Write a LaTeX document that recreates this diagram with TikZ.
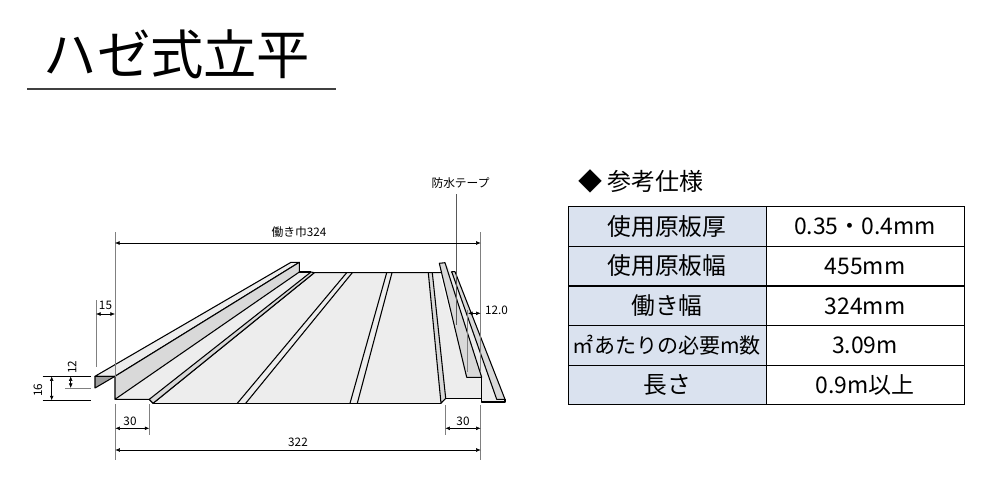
\documentclass[tikz,border=0pt]{standalone}
\usepackage{fontspec}
\setmainfont{Noto Sans CJK JP}
\usetikzlibrary{arrows.meta}

\definecolor{panelgray}{HTML}{EDEDED}
\definecolor{wallgray}{HTML}{D9D9D9}
\definecolor{headblue}{HTML}{DAE2EF}

\tikzset{
	outline/.style={draw=black,line width=0.8pt,line join=round},
	extline/.style={draw=gray,line width=0.6pt},
	blackline/.style={draw=black,line width=0.4pt},
	dimline/.style={draw=black,line width=0.4pt,{Latex[length=3.4pt,width=2.8pt]}-{Latex[length=3.4pt,width=2.8pt]}},
	dimlabel/.style={inner sep=0,font=\fontsize{8.8}{10}\selectfont},
	headcell/.style={draw=black,line width=0.6pt,fill=headblue,minimum width=148.5pt,minimum height=29.6pt,inner sep=0,font=\fontsize{17.8}{20}\selectfont},
	valuecell/.style={draw=black,line width=0.6pt,fill=white,minimum width=148.5pt,minimum height=29.6pt,inner sep=0,font=\fontsize{17.2}{20}\selectfont}
}

\begin{document}
\begin{tikzpicture}[x=0.75pt,y=-0.75pt]
		\useasboundingbox (0,0) rectangle (1000,500);
		
		% title
		\node (title) at (177,54) [inner sep=0,font=\fontsize{40}{44}\selectfont] {ハゼ式立平};
		\coordinate (TL) at (27,89);
		\coordinate (TR) at (336,89);
		\draw[draw=black!75,line width=0.8pt] (TL) -- (TR);
		
		% main panel
		\fill[panelgray] (115,399.3) -- (149.3,399.3) -- (153,403.3) -- (441,403.3) -- (445.5,398.3) -- (481.7,398.3) -- (481.7,377.3) -- (466.7,377.3) -- (439.3,272.7) -- (314.3,272.7) -- (299.3,272.7) -- cycle;
		\draw[outline] (153,403.3) -- (441,403.3);
		\draw[outline] (115,399.3) -- (149.3,399.3) -- (153,403.3) -- (314.3,272.7) -- (452,272.7);
		
		% flat ribs
		\draw[outline] (346.7,272.7) -- (237.3,403.3);
		\draw[outline] (352.3,272.7) -- (245.7,403.3);
		\draw[outline] (386.7,272.7) -- (350,403.3);
		\draw[outline] (392,272.7) -- (357.3,403.3);
		
		% left seam
		\filldraw[outline,fill=wallgray] (149.3,399.3) -- (153,403.3) -- (314.3,272.7) -- (311,272) -- cycle;
		\draw[outline] (299.3,272) -- (311,272);
		\filldraw[outline,fill=panelgray] (95,376.3) -- (291,262.3) -- (299.3,262.3) -- (115,376.3) -- cycle;
		\filldraw[outline,fill=wallgray] (115,376.3) -- (299.3,262.3) -- (299.3,272) -- (115,399.3) -- cycle;
		\filldraw[outline,fill=gray!75] (95,376.3) -- (115,376.3) -- (95,388) -- cycle;
		
		% right seam
		\fill[panelgray] (481.7,398.3) -- (481.7,402) -- (505,402) -- (505,399.3) -- (496.7,399.3) -- (451,271.7) -- (445,262.7) -- (481.7,377.3) -- cycle;
		\filldraw[outline,fill=wallgray] (451.7,271.7) -- (455,271.7) -- (505,399.3) -- (496.7,399.3) -- cycle;
		\filldraw[outline,fill=wallgray] (439.3,263.3) -- (445,262.7) -- (481.7,377.3) -- (466.7,377.3) -- cycle;
		\filldraw[outline,fill=wallgray] (428.3,272.7) -- (432.3,272.7) -- (445.7,398.3) -- (441,403.3) -- cycle;
		\draw[outline] (445.7,398.3) -- (481.7,398.3) -- (481.7,377.3);
		\draw[outline] (481.7,398.3) -- (481.7,402) -- (505,402) -- (505,399.3);
		
		% extension lines
		\coordinate (EA1) at (115,232);
		\coordinate (EA2) at (115,377);
		\coordinate (EB1) at (480.7,232);
		\coordinate (EB2) at (480.7,372);
		\coordinate (EC1) at (96,300);
		\coordinate (EC2) at (96,367);
		\coordinate (ED1) at (467.7,310);
		\coordinate (ED2) at (467.7,372);
		\coordinate (EE1) at (115.3,404);
		\coordinate (EE2) at (115.3,460);
		\coordinate (EF1) at (149.3,404);
		\coordinate (EF2) at (149.3,435);
		\coordinate (EG1) at (445.3,405);
		\coordinate (EG2) at (445.3,435);
		\coordinate (EH1) at (480.7,405);
		\coordinate (EH2) at (480.7,460);
		\coordinate (EI1) at (65,388);
		\coordinate (EI2) at (91,388);
		\draw[extline] (EA1) -- (EA2);
		\draw[extline] (EB1) -- (EB2);
		\draw[extline] (EC1) -- (EC2);
		\draw[extline] (ED1) -- (ED2);
		\draw[extline] (EE1) -- (EE2);
		\draw[extline] (EF1) -- (EF2);
		\draw[extline] (EG1) -- (EG2);
		\draw[extline] (EH1) -- (EH2);
		\draw[extline] (EI1) -- (EI2);
		
		\coordinate (EJ1) at (42.7,376.3);
		\coordinate (EJ2) at (90.7,376.3);
		\coordinate (EK1) at (42.7,400.3);
		\coordinate (EK2) at (90.7,400.3);
		\draw[blackline] (EJ1) -- (EJ2);
		\draw[blackline] (EK1) -- (EK2);
		
		% tape label and leader
		\node (tape) at (460.5,183) [dimlabel] {防水テープ};
		\coordinate (TP1) at (456.7,194);
		\coordinate (TP2) at (456.7,325);
		\draw[draw=black!65,line width=0.7pt] (TP1) -- (TP2);
		
		% dimensions
		\coordinate (W1) at (115,243);
		\coordinate (W2) at (480.7,243);
		\draw[dimline] (W1) -- (W2);
		\node (wlabel) at (299,232) [dimlabel] {働き巾324};
		
		\coordinate (A1) at (96,314);
		\coordinate (A2) at (115,314);
		\draw[dimline] (A1) -- (A2);
		\node (alabel) at (105.5,305) [dimlabel] {15};
		
		\coordinate (B1) at (468,313.3);
		\coordinate (B2) at (480.7,313.3);
		\draw[dimline] (B1) -- (B2);
		\node (blabel) at (496.5,310) [dimlabel] {12.0};
		
		\coordinate (C1) at (51.7,376.3);
		\coordinate (C2) at (51.7,400.3);
		\draw[dimline] (C1) -- (C2);
		\node (clabel) at (38,390) [dimlabel,rotate=90] {16};
		
		\coordinate (D1) at (70.7,376.3);
		\coordinate (D2) at (70.7,388);
		\draw[dimline] (D1) -- (D2);
		\node (dlabel) at (72,367) [dimlabel,rotate=90] {12};
		
		\coordinate (F1) at (115.3,428.3);
		\coordinate (F2) at (149.3,428.3);
		\draw[dimline] (F1) -- (F2);
		\node (flabel) at (130,421.5) [dimlabel] {30};
		
		\coordinate (G1) at (445.3,428.3);
		\coordinate (G2) at (480.7,428.3);
		\draw[dimline] (G1) -- (G2);
		\node (glabel) at (463,421.5) [dimlabel] {30};
		
		\coordinate (H1) at (115.3,450);
		\coordinate (H2) at (480.7,450);
		\draw[dimline] (H1) -- (H2);
		\node (hlabel) at (298,442) [dimlabel] {322};
		
		% spec table
		\node (spec) at (641,181) [inner sep=0,font=\fontsize{18}{20}\selectfont] {◆ 参考仕様};
		
		\node (H1C) at (667,226.5) [headcell] {使用原板厚};
		\node (V1C) at (865,226.5) [valuecell] {0.35・0.4mm};
		\node (H2C) at (667,266) [headcell] {使用原板幅};
		\node (V2C) at (865,266) [valuecell] {455mm};
		\node (H3C) at (667,306) [headcell] {働き幅};
		\node (V3C) at (865,306) [valuecell] {324mm};
		\node (H4C) at (667,345.5) [headcell,font=\fontsize{15.8}{18}\selectfont] {㎡あたりの必要m数};
		\node (V4C) at (865,345.5) [valuecell] {3.09m};
		\node (H5C) at (667,385) [headcell] {長さ};
		\node (V5C) at (865,385) [valuecell] {0.9m以上};

	\end{tikzpicture}
\end{document}
